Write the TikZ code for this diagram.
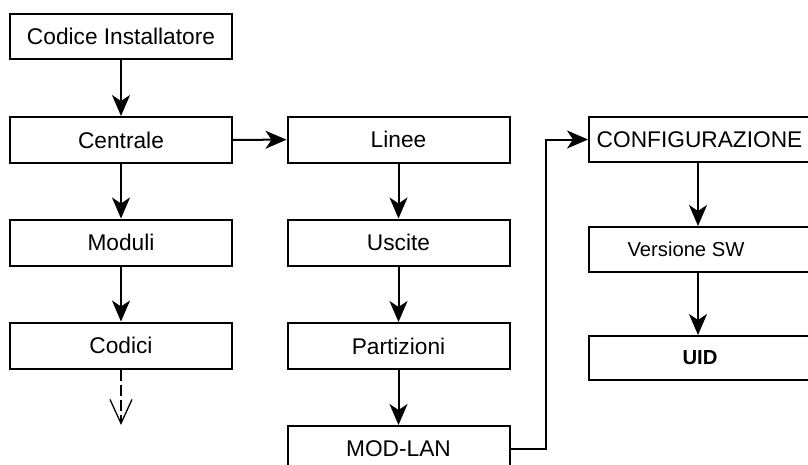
\documentclass[tikz,border=0pt]{standalone}
\usepackage{fontspec}
\setmainfont{Liberation Sans}
\usetikzlibrary{arrows.meta}
\begin{document}
\begin{tikzpicture}[x=1pt,y=-1pt,
  box/.style={draw, line width=2pt, rectangle, minimum width=222pt, minimum height=46pt, inner sep=0pt, font=\fontsize{22.7}{27}\selectfont},
  smallbox/.style={box, font=\fontsize{20.2}{24}\selectfont},
  arr/.style={line width=2pt, -{Stealth[length=21pt, width=18pt, inset=6pt]}},
  darr/.style={line width=1.5pt, dash pattern=on 11pt off 4pt, -{Straight Barb[length=24pt, width=22pt, line width=1.3pt]}}
]
\useasboundingbox (0,0) rectangle (808,464);
\clip (0,0) rectangle (808,464);
% left column
\node[box, minimum height=45pt] (ci) at (121,36.5) {Codice Installatore};
\node[box] (ce) at (121,140) {Centrale};
\node[box] (mo) at (121,242.5) {Moduli};
\node[box] (co) at (121,345.5) {Codici};
\coordinate (cx) at (121,425);
% middle column
\node[box] (li) at (398.5,139.5) {Linee};
\node[box] (us) at (398.5,242.5) {Uscite};
\node[box] (pa) at (398.5,346) {Partizioni};
\node[box] (ml) at (398.5,449) {MOD-LAN};
% right column
\node[box, minimum width=221pt, minimum height=45pt] (cf) at (699.5,139.5) {CONFIGURAZIONE};
\node[smallbox, minimum height=45pt, label={[font=\fontsize{20.2}{24}\selectfont, xshift=-14pt]center:Versione SW}] (vs) at (700,249.5) {};
\node[smallbox, minimum height=44pt, font=\fontsize{20.3}{24}\selectfont\bfseries] (ui) at (700,358) {UID};
% connectors
\draw[arr] (ci) -- (ce);
\draw[arr] (ce) -- (mo);
\draw[arr] (mo) -- (co);
\draw[darr] (co) -- (cx);
\draw[arr] (ce) -- (li);
\draw[arr] (li) -- (us);
\draw[arr] (us) -- (pa);
\draw[arr] (pa) -- (ml);
\draw[arr] (ml.east) -- (546,449) |- (cf.west);
\draw[arr] (cf.south -| 698,0) -- (vs.north -| 698,0);
\draw[arr] (vs.south -| 698,0) -- (ui.north -| 698,0);
\end{tikzpicture}
\end{document}
